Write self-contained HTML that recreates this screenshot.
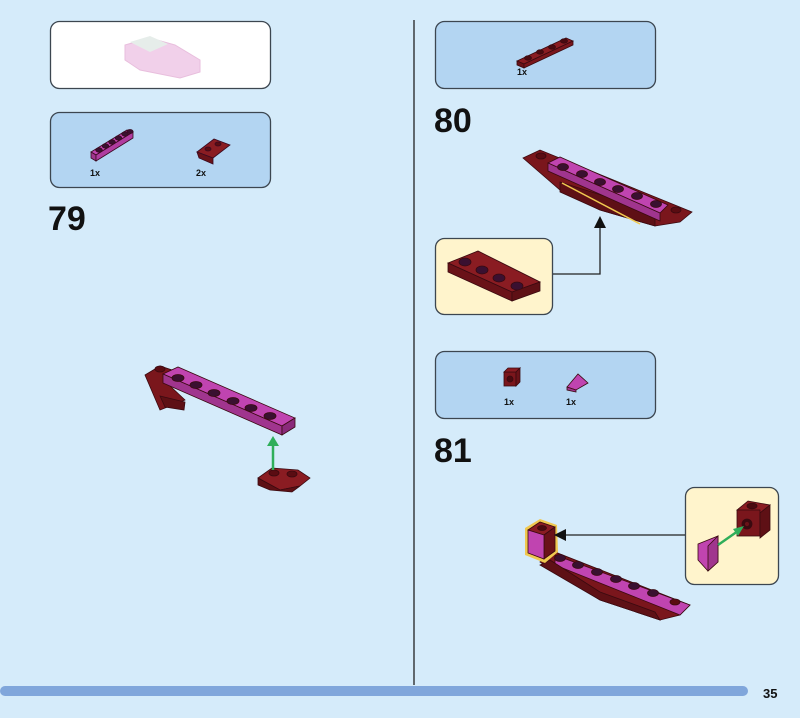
<!DOCTYPE html>
<html><head><meta charset="utf-8"><style>
html,body{margin:0;padding:0;width:800px;height:718px;overflow:hidden;background:#d5ebfa}
text{font-family:"Liberation Sans",sans-serif}
</style></head><body>
<svg width="800" height="718" viewBox="0 0 800 718" xmlns="http://www.w3.org/2000/svg">
<rect width="800" height="718" fill="#d5ebfa"/>
<rect x="50.5" y="21.5" width="220" height="67" rx="9" fill="#fff" stroke="#3c4650" stroke-width="1.3"/>
<rect x="50.5" y="112.5" width="220" height="75" rx="9" fill="#b3d5f2" stroke="#3c4650" stroke-width="1.3"/>
<rect x="435.5" y="21.5" width="220" height="67" rx="9" fill="#b3d5f2" stroke="#3c4650" stroke-width="1.3"/>
<rect x="435.5" y="238.5" width="117" height="76" rx="9" fill="#fff4cc" stroke="#3c4650" stroke-width="1.3"/>
<rect x="435.5" y="351.5" width="220" height="67" rx="9" fill="#b3d5f2" stroke="#3c4650" stroke-width="1.3"/>
<rect x="685.5" y="487.5" width="93" height="97" rx="9" fill="#fff4cc" stroke="#3c4650" stroke-width="1.3"/>
<line x1="414" y1="20" x2="414" y2="685" stroke="#222" stroke-width="1.3"/>
<rect x="0" y="686" width="748" height="10" rx="5" fill="#80a6db"/>
<text x="763" y="698" font-size="13" font-weight="bold" fill="#111">35</text>
<text x="48" y="230" font-size="34" font-weight="bold" fill="#111">79</text>
<text x="434" y="132" font-size="34" font-weight="bold" fill="#111">80</text>
<text x="434" y="462" font-size="34" font-weight="bold" fill="#111">81</text>
<g font-size="9" font-weight="bold" fill="#111">
<text x="90" y="176">1x</text><text x="196" y="176">2x</text>
<text x="517" y="75">1x</text>
<text x="504" y="405">1x</text><text x="566" y="405">1x</text>
</g>
<g opacity="0.9">
<polygon points="125,45 150,38 175,45 200,60 200,72 180,78 140,70 125,60" fill="#f0cce8" stroke="#e6b8da"/>
<polygon points="130,42 150,36 168,44 150,52" fill="#e4ece8"/>
</g>
<g stroke="#3a0a20" stroke-width="0.8">
<polygon points="91,152 127,130 133,132 96,155" fill="#c044b0"/>
<polygon points="91,152 96,155 96,161 91,158" fill="#a0358e"/>
<polygon points="96,155 133,132 133,138 96,161" fill="#b03ca0"/>
<g fill="#3a1030"><ellipse cx="99" cy="150" rx="3.3" ry="2.2"/><ellipse cx="105.5" cy="146" rx="3.3" ry="2.2"/><ellipse cx="112" cy="142" rx="3.3" ry="2.2"/><ellipse cx="118.5" cy="138" rx="3.3" ry="2.2"/><ellipse cx="125" cy="134" rx="3.3" ry="2.2"/><ellipse cx="130" cy="131.5" rx="3" ry="2"/></g>
<polygon points="197,152 214,139 230,145 213,158" fill="#8a1c22"/>
<polygon points="197,152 213,158 213,164 199,158" fill="#6a1218"/>
<ellipse cx="208" cy="149" rx="3" ry="2" fill="#5a0c12"/><ellipse cx="218" cy="144" rx="3" ry="2" fill="#5a0c12"/>
</g>
<g stroke="#3a0a10" stroke-width="0.8">
<polygon points="517,61 566,38 573,41 524,64" fill="#8a1c22"/>
<polygon points="517,61 524,64 524,68 517,65" fill="#6a1218"/>
<polygon points="524,64 573,41 573,45 524,68" fill="#7a161c"/>
<g fill="#4a0a10"><ellipse cx="528" cy="58" rx="3.5" ry="2.2"/><ellipse cx="540" cy="52" rx="3.5" ry="2.2"/><ellipse cx="552" cy="47" rx="3.5" ry="2.2"/><ellipse cx="564" cy="41" rx="3.5" ry="2.2"/></g>
</g>
<g stroke="#3a0a10" stroke-width="0.8">
<rect x="504" y="372" width="12" height="14" fill="#7a161c"/>
<polygon points="504,372 508,368 520,368 516,372" fill="#8a1c22"/>
<polygon points="516,372 520,368 520,382 516,386" fill="#6a1218"/>
<circle cx="510" cy="379" r="3" fill="#4a0a10"/>
<polygon points="567,387 578,374 588,383 576,390" fill="#c044b0"/>
<polygon points="567,387 576,390 576,392 567,390" fill="#a0358e"/>
</g>
<g stroke="#3a0a10" stroke-width="0.8">
<polygon points="145,375 160,366 178,372 168,384 185,400 160,410" fill="#7a161c"/>
<polygon points="160,396 185,402 184,410 165,407" fill="#5e1015"/>
<polygon points="163,374 178,367 295,418 282,426" fill="#c044b0"/>
<polygon points="163,374 282,426 282,435 163,383" fill="#a0358e"/>
<polygon points="282,426 295,418 295,427 282,435" fill="#8a2a7a"/>
<g fill="#3a1030"><ellipse cx="178" cy="378" rx="6" ry="3.5"/><ellipse cx="196" cy="385" rx="6" ry="3.5"/><ellipse cx="214" cy="393" rx="6" ry="3.5"/><ellipse cx="233" cy="401" rx="6" ry="3.5"/><ellipse cx="251" cy="408" rx="6" ry="3.5"/><ellipse cx="270" cy="416" rx="6" ry="3.5"/></g>
<ellipse cx="160" cy="369" rx="5" ry="3" fill="#5a0c12"/>
<polygon points="258,478 272,468 298,470 310,478 300,486 280,490" fill="#8a1c22"/>
<polygon points="258,478 280,490 300,486 292,492 270,490 258,485" fill="#5e1015"/>
<ellipse cx="274" cy="473" rx="5" ry="3" fill="#5a0c12"/><ellipse cx="292" cy="474" rx="5" ry="3" fill="#5a0c12"/>
</g>
<line x1="273" y1="470" x2="273" y2="445" stroke="#2fae5a" stroke-width="2.5"/>
<polygon points="267,446 273,436 279,446" fill="#2fae5a"/>
<g stroke="#3a0a10" stroke-width="0.8">
<polygon points="523,158 540,150 692,212 680,222 655,226 600,210 560,190" fill="#7a161c"/>
<polygon points="560,182 655,212 655,226 600,210 560,192" fill="#5e1015"/>
<polygon points="548,163 560,157 668,205 660,213" fill="#c044b0"/>
<polygon points="548,163 660,213 660,221 548,171" fill="#a0358e"/>
<g fill="#3a1030"><ellipse cx="563" cy="167" rx="5.5" ry="3.5"/><ellipse cx="582" cy="174" rx="5.5" ry="3.5"/><ellipse cx="600" cy="182" rx="5.5" ry="3.5"/><ellipse cx="618" cy="189" rx="5.5" ry="3.5"/><ellipse cx="637" cy="196" rx="5.5" ry="3.5"/><ellipse cx="656" cy="204" rx="5.5" ry="3.5"/></g>
<ellipse cx="541" cy="156" rx="5" ry="3" fill="#5a0c12"/><ellipse cx="676" cy="210" rx="5" ry="3" fill="#5a0c12"/>
</g>
<line x1="562" y1="183" x2="640" y2="224" stroke="#f0c850" stroke-width="1.5"/>
<polyline points="553,274 600,274 600,226" fill="none" stroke="#222" stroke-width="1.3"/>
<polygon points="594,228 600,216 606,228" fill="#111"/>
<g stroke="#3a0a10" stroke-width="0.8">
<polygon points="448,263 478,251 540,282 512,292" fill="#8a1c22"/>
<polygon points="448,263 512,292 512,301 448,272" fill="#6a1218"/>
<polygon points="512,292 540,282 540,291 512,301" fill="#5e1015"/>
<g fill="#3a1030"><ellipse cx="465" cy="262" rx="6" ry="4"/><ellipse cx="482" cy="270" rx="6" ry="4"/><ellipse cx="499" cy="278" rx="6" ry="4"/><ellipse cx="517" cy="286" rx="6" ry="4"/></g>
</g>
<g stroke="#3a0a10" stroke-width="0.8">
<polygon points="540,562 555,552 690,605 680,615 660,620 600,600" fill="#7a161c"/>
<polygon points="555,555 690,605 680,615 555,565" fill="#c044b0"/>
<polygon points="540,565 600,600 660,620 655,612 600,592 550,560" fill="#5e1015"/>
<g fill="#3a1030"><ellipse cx="560" cy="558" rx="5.5" ry="3.5"/><ellipse cx="578" cy="565" rx="5.5" ry="3.5"/><ellipse cx="597" cy="572" rx="5.5" ry="3.5"/><ellipse cx="616" cy="579" rx="5.5" ry="3.5"/><ellipse cx="634" cy="586" rx="5.5" ry="3.5"/><ellipse cx="653" cy="593" rx="5.5" ry="3.5"/></g>
<ellipse cx="675" cy="602" rx="5" ry="3" fill="#5a0c12"/>
</g>
<polygon points="525,528 540,519 557,525 558,552 545,563 525,555" fill="#f0c850"/>
<g stroke="#3a0a10" stroke-width="0.8">
<polygon points="528,530 540,522 555,527 544,535" fill="#8a1c22"/>
<polygon points="544,535 555,527 555,551 544,559" fill="#6a1218"/>
<polygon points="528,530 544,535 544,559 528,553" fill="#c044b0"/>
<ellipse cx="542" cy="528" rx="4.5" ry="2.5" fill="#4a0a10"/>
</g>
<line x1="685" y1="535" x2="565" y2="535" stroke="#222" stroke-width="1.3"/>
<polygon points="566,529 554,535 566,541" fill="#111"/>
<g stroke="#3a0a10" stroke-width="0.8">
<polygon points="737,510 748,501 770,505 760,513" fill="#8a1c22"/>
<rect x="737" y="510" width="23" height="26" fill="#7a161c"/>
<polygon points="760,513 770,505 770,530 760,538" fill="#5e1015"/>
<ellipse cx="752" cy="506" rx="5" ry="2.8" fill="#4a0a10"/>
<circle cx="747" cy="524" r="5" fill="#3a0a10"/><circle cx="747" cy="524" r="2.5" fill="#6a1218"/>
<polygon points="698,544 718,536 718,562 708,571 698,560" fill="#c044b0"/>
<polygon points="708,546 718,536 718,562 708,571" fill="#a0358e"/>
</g>
<line x1="718" y1="545" x2="738" y2="531" stroke="#2fae5a" stroke-width="2.5"/>
<polygon points="733,529 744,526 738,536" fill="#2fae5a"/>
</svg>
</body></html>
